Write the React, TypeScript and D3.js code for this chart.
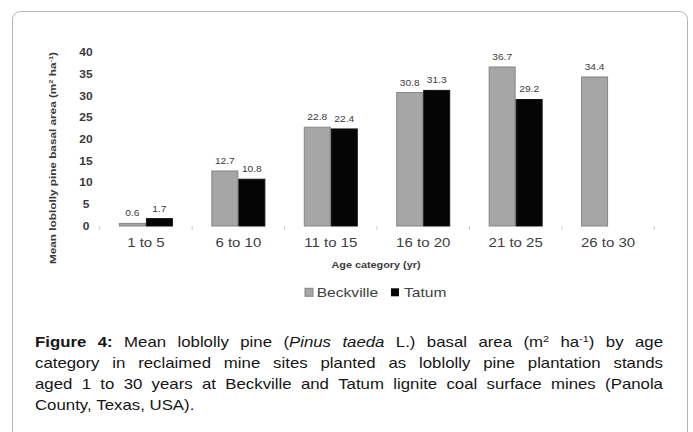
import React from "react";
import * as d3 from "d3";

const categories = ["1 to 5", "6 to 10", "11 to 15", "16 to 20", "21 to 25", "26 to 30"];
const seriesNames = ["Beckville", "Tatum"];
const beckville: (number | null)[] = [0.6, 12.7, 22.8, 30.8, 36.7, 34.4];
const tatum: (number | null)[] = [1.7, 10.8, 22.4, 31.3, 29.2, null];
const yTicks = [0, 5, 10, 15, 20, 25, 30, 35, 40];
const yTitle = "Mean loblolly pine basal area (m";
const xTitle = "Age category (yr)";

type Run = [string, string?];
const captionLines: Run[][][] = [
  [
    [["Figure", "b"]], [["4:", "b"]], [["Mean"]], [["loblolly"]], [["pine"]],
    [["("], ["Pinus", "i"]], [["taeda", "i"]], [["L.)"]], [["basal"]], [["area"]],
    [["(m"], ["2", "sup"]], [["ha"], ["-1", "sup"], [")"]], [["by"]], [["age"]],
  ],
  "category in reclaimed mine sites planted as loblolly pine plantation stands".split(" ").map((w) => [[w]] as Run[]),
  "aged 1 to 30 years at Beckville and Tatum lignite coal surface mines (Panola".split(" ").map((w) => [[w]] as Run[]),
  "County, Texas, USA).".split(" ").map((w) => [[w]] as Run[]),
];

const FONT = '"Liberation Sans", Arial, sans-serif';
const SX = 1.2; // horizontal stretch of the reference image
const colors: Record<string, string> = { Beckville: "#a6a6a6", Tatum: "#050505" };
const strokes: Record<string, string> = { Beckville: "#858585", Tatum: "#111" };

let ctx: CanvasRenderingContext2D | null = null;
function measure(runs: Run[], size: number): number {
  if (!ctx) ctx = document.createElement("canvas").getContext("2d");
  let w = 0;
  for (const [t, s] of runs) {
    const fs = s === "sup" ? size * 0.65 : size;
    ctx!.font = `${s === "i" ? "italic " : ""}${s === "b" ? "bold " : ""}${fs}px ${FONT}`;
    w += ctx!.measureText(t).width;
  }
  return w * SX;
}

function SText(props: { x: number; y: number; size: number; anchor?: string; weight?: string; fill?: string; children: React.ReactNode }) {
  const { x, y, size, anchor = "start", weight, fill = "#3a3a3a", children } = props;
  return (
    <text transform={`translate(${x},${y}) scale(${SX},1)`} textAnchor={anchor} fontSize={size} fontWeight={weight} fontFamily={FONT} fill={fill}>
      {children}
    </text>
  );
}

export default function App() {
  const x0 = d3.scaleBand<string>().domain(categories).range([99.7, 654.3]).paddingInner(0.416).paddingOuter(0.208);
  const x1 = d3.scaleBand<string>().domain(seriesNames).range([0, x0.bandwidth()]);
  const y = d3.scaleLinear().domain([0, 40]).range([226, 52.7]);
  const step = x0.step();
  const boundaries = d3.range(categories.length + 1).map((i) => 99.7 + i * step);
  const data = [beckville, tatum];

  const capSize = 14;
  const capLeft = 35;
  const capRight = 663;
  const capBase = 347.3;
  const capLead = 21;

  const captionEls: React.ReactNode[] = [];
  captionLines.forEach((words, li) => {
    const widths = words.map((w) => measure(w, capSize));
    const total = d3.sum(widths);
    const last = li === captionLines.length - 1;
    const gap = last ? measure([[" "]], capSize) : (capRight - capLeft - total) / (words.length - 1);
    let cx = capLeft;
    words.forEach((runs, wi) => {
      let shifted = false;
      captionEls.push(
        <text key={`c${li}-${wi}`} transform={`translate(${cx},${capBase + li * capLead}) scale(${SX},1)`} fontSize={capSize} fontFamily={FONT} fill="#151515">
          {runs.map(([t, s], ri) => {
            let dy = 0;
            if (s === "sup") { dy = -5; shifted = true; }
            else if (shifted) { dy = 5; shifted = false; }
            return (
              <tspan key={ri} dy={dy || undefined}
                fontWeight={s === "b" ? "bold" : undefined}
                fontStyle={s === "i" ? "italic" : undefined}
                fontSize={s === "sup" ? capSize * 0.65 : undefined}>{t}</tspan>
            );
          })}
        </text>
      );
      cx += widths[wi] + gap;
    });
  });

  return (
    <svg width={693} height={432} style={{ position: "absolute", left: 0, top: 0, background: "#fff" }}>
      <rect x={12.5} y={11.5} width={675} height={440} rx={8} fill="#fff" stroke="#b4b4b4" strokeWidth={1} />
      {/* y tick labels */}
      {yTicks.map((t) => (
        <SText key={t} x={86} y={y(t) + 3.7} size={10} weight="bold" anchor="middle">{t}</SText>
      ))}
      {/* y title */}
      <text transform={`translate(56,158) rotate(-90)`} textAnchor="middle" fontSize={9.5} fontWeight="bold" fontFamily={FONT} fill="#3a3a3a" textLength={212} lengthAdjust="spacingAndGlyphs">
        {yTitle}<tspan fontSize={6} dy={-3.5}>2</tspan><tspan dy={3.5}> ha</tspan><tspan fontSize={6} dy={-3.5}>-1</tspan><tspan dy={3.5}>)</tspan>
      </text>
      {/* boundary ticks */}
      {boundaries.map((b, i) => (
        <line key={i} x1={b} x2={b} y1={226} y2={229.5} stroke="#c8c8c8" strokeWidth={1} />
      ))}
      {/* bars */}
      {categories.map((c, ci) => (
        <g key={c}>
          {seriesNames.map((s, si) => {
            const v = data[si][ci];
            if (v == null) return null;
            const bx = (x0(c) as number) + (x1(s) as number);
            const bw = x1.bandwidth();
            return (
              <g key={s}>
                <rect x={bx + 0.5} y={y(v)} width={bw - 1} height={y(0) - y(v)} fill={colors[s]} stroke={strokes[s]} strokeWidth={1} />
                <SText x={bx + bw / 2} y={y(v) - 7} size={8.5} anchor="middle">{v.toFixed(1)}</SText>
              </g>
            );
          })}
          <SText x={(x0(c) as number) + x0.bandwidth() / 2} y={246.5} size={12.5} anchor="middle" fill="#404040">{c}</SText>
        </g>
      ))}
      {/* x title */}
      <text x={376} y={267.5} textAnchor="middle" fontSize={9.5} fontWeight="bold" fontFamily={FONT} fill="#3a3a3a" textLength={89} lengthAdjust="spacingAndGlyphs">{xTitle}</text>
      {/* legend */}
      <rect x={305} y={288.3} width={8} height={8} fill={colors.Beckville} stroke={strokes.Beckville} />
      <SText x={316.7} y={296.8} size={13} fill="#404040">{seriesNames[0]}</SText>
      <rect x={391} y={288.3} width={8} height={8} fill={colors.Tatum} />
      <SText x={404} y={296.8} size={13} fill="#404040">{seriesNames[1]}</SText>
      {captionEls}
    </svg>
  );
}
